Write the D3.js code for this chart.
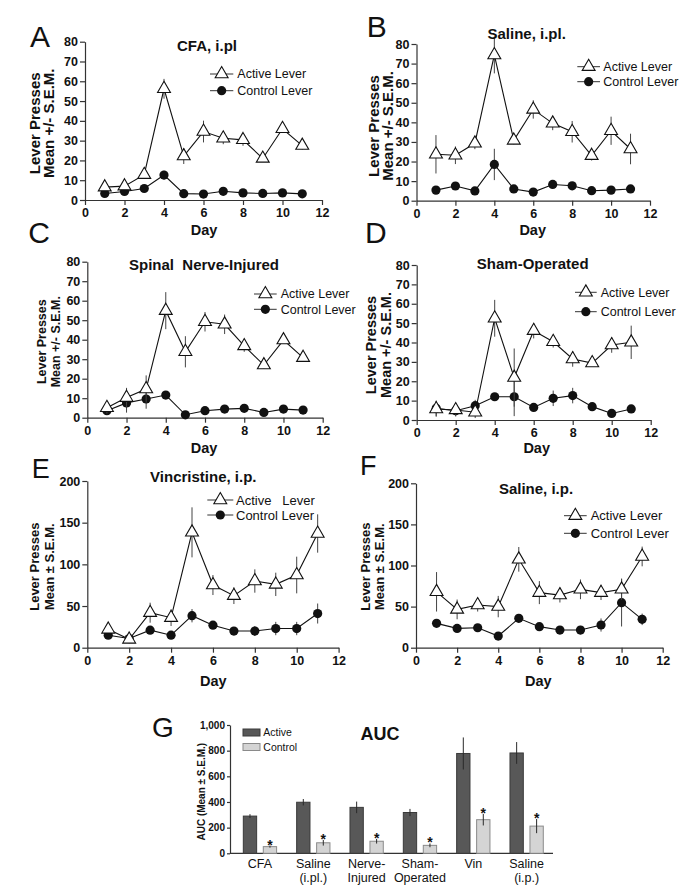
<!DOCTYPE html>
<html><head><meta charset="utf-8">
<script src="https://cdnjs.cloudflare.com/ajax/libs/d3/7.8.5/d3.min.js"></script>
<style>
body{margin:0;background:#fff;}
text{font-family:"Liberation Sans",Arial,Helvetica,sans-serif;fill:#111;}
</style></head>
<body><svg id="chart" width="683" height="890"></svg>
<script>
// ---------- DATA ----------
const days = [1,2,3,4,5,6,7,8,9,10,11];
const xTicksDay = [0,2,4,6,8,10,12];
const yTicks80 = [0,10,20,30,40,50,60,70,80];
const yTicks200 = [0,50,100,150,200];

const cfaActive      = [6.5,7,12.8,56.2,22.2,34.6,31.2,30.4,21,36,27.5];
const cfaActiveErr   = [1,1,1.5,5,4,5.5,3,3,1,1.5,2];
const cfaControl     = [3.3,4.3,5.8,12.6,3.2,3,4.4,3.6,3.3,3.6,3.1];
const cfaControlErr  = [1,1,1,2.2,1,1,1,1,0.5,0.5,0.5];

const salIplActive     = [23.7,23.2,29.3,74.4,30.8,46.6,39.5,35.2,23,35.7,26.4];
const salIplActiveErr  = [9.8,4.5,3,9.4,2,4.7,3.5,5.5,2.5,7.2,7.8];
const salIplControl    = [5.4,7.5,5,18.5,6,4.4,8.3,7.6,5.1,5.4,6];
const salIplControlErr = [1,1,1,8,1,1,1,1,1,1,2];

const sniActive      = [5.1,10.3,14.7,54.9,33.8,49.2,47.9,36.8,27,39.8,30.8];
const sniActiveErr   = [3,5,7,9.5,8,5,5,3,2,1,1.5];
const sniControl     = [3.6,7.6,9.6,11.6,1.5,3.6,4.4,4.8,2.7,4.4,3.9];
const sniControlErr  = [1.5,5,5,1,0.5,0.5,0.5,0.5,0.5,0.5,0.5];

const shamActive     = [5.7,5.2,4,52.5,21.9,46.1,40.4,31.5,29.4,38.7,40.1];
const shamActiveErr  = [4,3,3,9.5,15,4,3,4,1,4,8.6];
const shamControl    = [6,4.8,7.4,12,12,6.5,11.2,12.6,6.9,3.4,5.7];
const shamControlErr = [4,3,3,1,10,1,4,4,1,1,1];

const vinActive      = [22,10,42,36,138.4,75.2,62.4,80,76,87.2,137];
const vinActiveErr   = [4,2,12,10,30,12,10,14,14,22,23];
const vinControl     = [15,11,21,15,38.4,27,20,20,23,23,41];
const vinControlErr  = [2,2,2,2,8,2,2,6,8,8,12];

const salIpActive     = [68,46.6,52,50,107.5,67,64,71,67,71,111];
const salIpActiveErr  = [24,12,8,13,15,14,9,12,9,13,12];
const salIpControl    = [29.6,23.5,24.3,14.2,35.7,25.6,21.5,21.5,27.6,54.8,34.5];
const salIpControlErr = [2,4,2,2,5,2,2,5,8,29,7];

const aucGroups      = ["CFA","Saline\n(i.pl.)","Nerve-\nInjured","Sham-\nOperated","Vin","Saline\n(i.p.)"];
const aucSeries      = ["Active","Control"];
const aucActive      = [290,398,358,318,778,782];
const aucActiveErr   = [15,25,45,28,125,85];
const aucControl     = [52,82,94,62,262,212];
const aucControlErr  = [8,22,18,15,45,55];
const aucTicks       = [0,200,400,600,800,1000];

// ---------- LAYOUT ----------
const svg = d3.select("#chart");
const FONT = '"Liberation Sans",Arial,Helvetica,sans-serif';

const panels = [
 {letter:"A", lx:30, ly:46.7, lfs:30, title:"CFA, i.pl", tx:207, ty:50.5,
  x0:85, x1:322, yT:41.7, yB:200, yMax:80, yt:yTicks80,
  act:cfaActive, actE:cfaActiveErr, con:cfaControl, conE:cfaControlErr,
  legL:210, legR:233.3, legT:237.3, legY:[74,90.7], legFs:12.5, actLabel:"Active Lever",
  ylx:[35,49], yly:123.3, ylfs:15, yl2:"Mean +/- S.E.M.", dx:204, dy:235},
 {letter:"B", lx:366.7, ly:36.7, lfs:30, title:"Saline, i.pl.", tx:526.7, ty:38.5,
  x0:416.5, x1:650, yT:44, yB:200.7, yMax:80, yt:yTicks80,
  act:salIplActive, actE:salIplActiveErr, con:salIplControl, conE:salIplControlErr,
  legL:577.3, legR:600, legT:603.3, legY:[66.7,81.7], legFs:12.5, actLabel:"Active Lever",
  ylx:[373.3,387.3], yly:126, ylfs:15, yl2:"Mean +/- S.E.M.", dx:532.7, dy:235},
 {letter:"C", lx:28.3, ly:243, lfs:30, title:"Spinal  Nerve-Injured", tx:204, ty:269.5,
  x0:87.3, x1:322.7, yT:261.7, yB:417.7, yMax:80, yt:yTicks80,
  act:sniActive, actE:sniActiveErr, con:sniControl, conE:sniControlErr,
  legL:254, legR:276.7, legT:280.7, legY:[294,309.3], legFs:12.5, actLabel:"Active Lever",
  ylx:[41.7,55.7], yly:341.7, ylfs:12.5, yl2:"Mean +/- S.E.M.", dx:204, dy:453},
 {letter:"D", lx:365, ly:243, lfs:30, title:"Sham-Operated", tx:532.7, ty:268.5,
  x0:416.7, x1:650.7, yT:265, yB:420, yMax:80, yt:yTicks80,
  act:shamActive, actE:shamActiveErr, con:shamControl, conE:shamControlErr,
  legL:575, legR:596.7, legT:600.7, legY:[292.3,311.7], legFs:12.5, actLabel:"Active Lever",
  ylx:[370.7,386], yly:345, ylfs:14.5, yl2:"Mean +/- S.E.M.", dx:536.7, dy:453},
 {letter:"E", lx:31.7, ly:478, lfs:27, title:"Vincristine, i.p.", tx:203.3, ty:482,
  x0:87.3, x1:338.6, yT:481, yB:647.7, yMax:200, yt:yTicks200,
  act:vinActive, actE:vinActiveErr, con:vinControl, conE:vinControlErr,
  legL:207.3, legR:233.3, legT:236, legY:[500,515], legFs:13, actLabel:"Active   Lever",
  ylx:[34,49], yly:566.7, ylfs:13, yl2:"Mean \u00b1 S.E.M.", dx:213.3, dy:686},
 {letter:"F", lx:360, ly:475, lfs:27, title:"Saline, i.p.", tx:536, ty:493.5,
  x0:416, x1:662.7, yT:483.3, yB:647.7, yMax:200, yt:yTicks200,
  act:salIpActive, actE:salIpActiveErr, con:salIpControl, conE:salIpControlErr,
  legL:564, legR:586.7, legT:590.7, legY:[515.7,533.3], legFs:13, actLabel:"Active Lever",
  ylx:[365,379], yly:566.7, ylfs:13, yl2:"Mean \u00b1 S.E.M.", dx:538.3, dy:686}
];

const triSym = d3.symbol().type(d3.symbolTriangle).size(72);

panels.forEach(p => {
  const g = svg.append("g");
  const x = d3.scaleLinear().domain([0,12]).range([p.x0,p.x1]);
  const y = d3.scaleLinear().domain([0,p.yMax]).range([p.yB,p.yT]);

  // axes
  const ax = g.append("g").attr("transform",`translate(0,${p.yB})`)
    .call(d3.axisBottom(x).tickValues(xTicksDay).tickSize(5).tickPadding(3).tickSizeOuter(0));
  const ay = g.append("g").attr("transform",`translate(${p.x0},0)`)
    .call(d3.axisLeft(y).tickValues(p.yt).tickSize(5).tickPadding(2).tickSizeOuter(0));
  [ax,ay].forEach(a=>{
    a.selectAll("path,line").attr("stroke","#333").attr("stroke-width",1.2);
    a.selectAll("text").attr("font-family",FONT).attr("font-size",12.5).attr("font-weight","bold").attr("fill","#111");
  });

  // series drawing
  function series(vals, errs, kind){
    const s = g.append("g");
    s.selectAll("line.err").data(days).join("line")
      .attr("x1",(d)=>x(d)).attr("x2",(d)=>x(d))
      .attr("y1",(d,i)=>y(vals[i]-errs[i])).attr("y2",(d,i)=>y(vals[i]+errs[i]))
      .attr("stroke","#444").attr("stroke-width",1);
    s.append("path").datum(days)
      .attr("d", d3.line().x(d=>x(d)).y((d,i)=>y(vals[i])))
      .attr("fill","none").attr("stroke","#111").attr("stroke-width",1.1);
    if(kind==="tri"){
      s.selectAll("path.m").data(days).join("path")
        .attr("d",triSym).attr("transform",(d,i)=>`translate(${x(d)},${y(vals[i])})`)
        .attr("fill","#fff").attr("stroke","#111").attr("stroke-width",1.1);
    } else {
      s.selectAll("circle").data(days).join("circle")
        .attr("cx",d=>x(d)).attr("cy",(d,i)=>y(vals[i])).attr("r",4.6)
        .attr("fill","#111");
    }
  }
  series(p.con,p.conE,"circ");
  series(p.act,p.actE,"tri");

  // legend
  const legMid = (p.legL+p.legR)/2;
  [[p.actLabel,"tri"],["Control Lever","circ"]].forEach((l,i)=>{
    const yy = p.legY[i];
    g.append("line").attr("x1",p.legL).attr("x2",p.legR).attr("y1",yy).attr("y2",yy)
      .attr("stroke","#333").attr("stroke-width",1);
    if(l[1]==="tri") g.append("path").attr("d",triSym).attr("transform",`translate(${legMid},${yy})`)
        .attr("fill","#fff").attr("stroke","#111").attr("stroke-width",1.1);
    else g.append("circle").attr("cx",legMid).attr("cy",yy).attr("r",4.6).attr("fill","#111");
    g.append("text").attr("x",p.legT).attr("y",yy).attr("dy","0.35em")
      .attr("font-size",p.legFs).style("white-space","pre").text(l[0]);
  });

  // title
  g.append("text").attr("x",p.tx).attr("y",p.ty).attr("text-anchor","middle")
    .attr("font-size",15).attr("font-weight","bold").style("white-space","pre").text(p.title);
  // letter
  g.append("text").attr("x",p.lx).attr("y",p.ly).attr("font-size",p.lfs).text(p.letter);
  // y label
  ["Lever Presses", p.yl2].forEach((t,i)=>{
    g.append("text").attr("transform",`translate(${p.ylx[i]},${p.yly}) rotate(-90)`)
      .attr("text-anchor","middle").attr("dy","0.35em")
      .attr("font-size",p.ylfs).attr("font-weight","bold").text(t);
  });
  // x label
  g.append("text").attr("x",p.dx).attr("y",p.dy).attr("text-anchor","middle")
    .attr("font-size",14.5).attr("font-weight","bold").text("Day");
});

// ---------- PANEL G ----------
const gG = svg.append("g");
const gx0 = 230, gx1 = 553, gyT = 725, gyB = 853.3;
const xg = d3.scaleBand().domain(aucGroups).range([233.3,553.3]).paddingInner(0).paddingOuter(0);
const xs = d3.scaleBand().domain(aucSeries).range([0,33.3]).paddingInner(0.333);
const yg = d3.scaleLinear().domain([0,1000]).range([gyB,gyT]);
const grpOff = (xg.bandwidth()-33.3)/2;

const ayg = gG.append("g").attr("transform",`translate(${gx0},0)`)
  .call(d3.axisLeft(yg).tickValues(aucTicks).tickSize(3).tickPadding(2).tickSizeOuter(0));
ayg.selectAll("path,line").attr("stroke","#333").attr("stroke-width",1.2);
ayg.selectAll("text").attr("font-family",FONT).attr("font-size",10).attr("font-weight","bold").attr("fill","#111");
gG.append("line").attr("x1",gx0).attr("x2",gx1).attr("y1",gyB).attr("y2",gyB)
  .attr("stroke","#333").attr("stroke-width",1.2);

const aucData = [[aucActive,aucActiveErr,"#585858","#3a3a3a"],[aucControl,aucControlErr,"#d4d4d4","#8a8a8a"]];
aucData.forEach((sd,si)=>{
  const [vals,errs,fill,stroke] = sd;
  aucGroups.forEach((gname,i)=>{
    const bx = xg(gname)+grpOff+xs(aucSeries[si]);
    const bw = xs.bandwidth();
    gG.append("rect").attr("x",bx).attr("y",yg(vals[i])).attr("width",bw)
      .attr("height",gyB-yg(vals[i])).attr("fill",fill).attr("stroke",stroke).attr("stroke-width",1);
    gG.append("line").attr("x1",bx+bw/2).attr("x2",bx+bw/2)
      .attr("y1",yg(vals[i]-errs[i])).attr("y2",yg(vals[i]+errs[i]))
      .attr("stroke","#2a2a2a").attr("stroke-width",1);
    if(si===1){
      gG.append("text").attr("x",bx+bw/2).attr("y",yg(vals[i]+errs[i])+4)
        .attr("text-anchor","middle").attr("font-size",14).attr("font-weight","bold").text("*");
    }
  });
});

// group labels
aucGroups.forEach(gname=>{
  const cx = xg(gname)+xg.bandwidth()/2;
  gname.split("\n").forEach((ln,j)=>{
    gG.append("text").attr("x",cx).attr("y",868+j*14).attr("text-anchor","middle")
      .attr("font-size",12.5).text(ln);
  });
});

// legend
aucSeries.forEach((s,i)=>{
  const yy = 729 + i*14.5;
  gG.append("rect").attr("x",243).attr("y",yy).attr("width",17).attr("height",7)
    .attr("fill",aucData[i][2]).attr("stroke",aucData[i][3]).attr("stroke-width",1);
  gG.append("text").attr("x",263.3).attr("y",yy+3.5).attr("dy","0.35em").attr("font-size",10.5).text(s);
});

gG.append("text").attr("x",380).attr("y",740).attr("text-anchor","middle")
  .attr("font-size",18).attr("font-weight","bold").text("AUC");
gG.append("text").attr("x",152).attr("y",737).attr("font-size",28).text("G");
gG.append("text").attr("transform",`translate(201.7,791.7) rotate(-90)`)
  .attr("text-anchor","middle").attr("dy","0.35em")
  .attr("font-size",10).attr("font-weight","bold").text("AUC (Mean \u00b1 S.E.M.)");
</script>
</body></html>
